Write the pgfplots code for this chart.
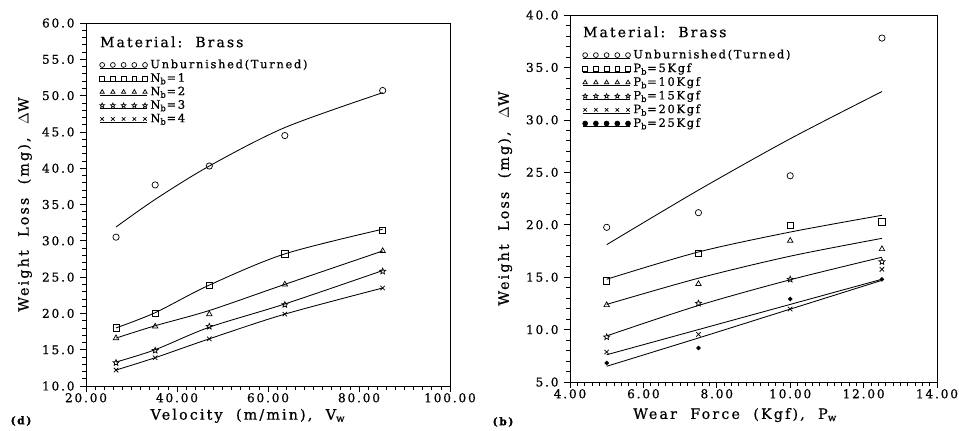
\documentclass[border=0pt]{standalone}
\usepackage{fontspec}
\setmainfont{DejaVu Serif}[LetterSpace=15, FakeBold=0.7]
\usepackage{pgfplots}
\pgfplotsset{compat=1.18}

% open five-pointed star
\pgfdeclareplotmark{ostar}{%
  \pgfpathmoveto{\pgfpointpolar{90}{\pgfplotmarksize}}%
  \pgfpathlineto{\pgfpointpolar{126}{0.45\pgfplotmarksize}}%
  \pgfpathlineto{\pgfpointpolar{162}{\pgfplotmarksize}}%
  \pgfpathlineto{\pgfpointpolar{198}{0.45\pgfplotmarksize}}%
  \pgfpathlineto{\pgfpointpolar{234}{\pgfplotmarksize}}%
  \pgfpathlineto{\pgfpointpolar{270}{0.45\pgfplotmarksize}}%
  \pgfpathlineto{\pgfpointpolar{306}{\pgfplotmarksize}}%
  \pgfpathlineto{\pgfpointpolar{342}{0.45\pgfplotmarksize}}%
  \pgfpathlineto{\pgfpointpolar{18}{\pgfplotmarksize}}%
  \pgfpathlineto{\pgfpointpolar{54}{0.45\pgfplotmarksize}}%
  \pgfpathclose\pgfusepathqstroke}

\pgfplotsset{
  legimg/.style={legend image code/.code={
    \draw[black, line width=0.5pt] (-1.5pt,-2.2pt) -- (31.5pt,-2.2pt);
    \draw[##1, mark size=1.7pt] plot coordinates {(0pt,0pt) (7.5pt,0pt) (15pt,0pt) (22.5pt,0pt) (30pt,0pt)};}},
  myaxis/.style={
    scale only axis,
    axis line style={black, line width=0.6pt},
    tick align=outside, xtick pos=bottom, ytick pos=left,
    major tick length=4.5pt, minor tick length=2.5pt,
    every tick/.style={black, line width=0.5pt},
    minor x tick num=9, minor y tick num=4,
    tick label style={font=\fontsize{8.5}{10}\selectfont},
    /pgf/number format/assume math mode=true,
    /pgf/number format/fixed, /pgf/number format/zerofill,
    xticklabel style={/pgf/number format/precision=2, yshift=3pt},
    yticklabel style={/pgf/number format/precision=1},
    label style={font=\fontsize{9.8}{11}\selectfont},
    legend style={draw=none, fill=none, font=\fontsize{8}{9}\selectfont,
      anchor=north west, nodes={inner ysep=1pt}},
    legend cell align=left,
  },
  fitline/.style={black, line width=0.6pt, smooth, mark=none, forget plot},
  pts/.style={black, only marks, mark size=2.2pt, line width=0.5pt, legimg},
}

\begin{document}
\begin{tikzpicture}
\useasboundingbox (0,0) rectangle (671.3pt,301pt);

% ---------- (d) velocity ----------
\begin{axis}[myaxis,
  at={(60.2pt,30.8pt)}, anchor=south west,
  width=254.8pt, height=254.1pt,
  xmin=20, xmax=100, ymin=10, ymax=60,
  xtick={20,40,60,80,100}, ytick={10,15,...,60},
  xlabel={Velocity\ \ (m/min),\ \ V\textsubscript{w}},
  ylabel={Weight\ \ Loss\ \ (mg),\ \ $\Delta$W},
  every axis x label/.style={at={(axis description cs:0.445,-0.082)}, anchor=center},
  every axis y label/.style={at={(axis description cs:-0.168,0.5)}, rotate=90, anchor=center},
  legend style={at={(axis description cs:0.025,0.912)}},
]
\addplot[pts, mark=o] coordinates {(26.6,30.5) (35.2,37.7) (47.1,40.3) (63.7,44.5) (85.2,50.7)};
\addlegendentry{Unburnished(Turned)}
\addplot[pts, mark=square] coordinates {(26.6,18.0) (35.2,20.0) (47.1,23.9) (63.7,28.2) (85.2,31.4)};
\addlegendentry{N\textsubscript{b}=1}
\addplot[pts, mark=triangle] coordinates {(26.6,16.6) (35.2,18.2) (47.1,19.9) (63.7,24.0) (85.2,28.6)};
\addlegendentry{N\textsubscript{b}=2}
\addplot[pts, mark=ostar] coordinates {(26.6,13.2) (35.2,14.9) (47.1,18.2) (63.7,21.2) (85.2,25.8)};
\addlegendentry{N\textsubscript{b}=3}
\addplot[pts, mark=x] coordinates {(26.6,12.2) (35.2,13.9) (47.1,16.5) (63.7,19.9) (85.2,23.5)};
\addlegendentry{N\textsubscript{b}=4}

\addplot[fitline] coordinates {(26.6,31.9) (35.2,35.7) (47.1,40.3) (63.7,45.6) (85.2,50.4)};
\addplot[fitline] coordinates {(26.6,18.0) (35.2,20.1) (47.1,23.9) (63.7,28.2) (85.2,31.6)};
\addplot[fitline] coordinates {(26.6,16.6) (35.2,18.3) (47.1,20.4) (63.7,24.0) (85.2,28.6)};
\addplot[fitline] coordinates {(26.6,13.3) (35.2,15.0) (47.1,18.1) (63.7,21.3) (85.2,25.9)};
\addplot[fitline] coordinates {(26.6,12.2) (35.2,13.9) (47.1,16.5) (63.7,19.9) (85.2,23.5)};

\node[anchor=west, font=\fontsize{9.8}{11}\selectfont] at (axis description cs:0.025,0.948) {Material:\ \ Brass};
\end{axis}

% ---------- (b) wear force ----------
\begin{axis}[myaxis,
  at={(399pt,33.6pt)}, anchor=south west,
  width=256.9pt, height=256.9pt,
  xmin=4, xmax=14, ymin=5, ymax=40,
  xtick={4,6,...,14}, ytick={5,10,...,40},
  xlabel={Wear\ \ Force\ \ (Kgf),\ \ P\textsubscript{w}},
  ylabel={Weight\ \ Loss\ \ (mg),\ \ $\Delta$W},
  every axis x label/.style={at={(axis description cs:0.45,-0.09)}, anchor=center},
  every axis y label/.style={at={(axis description cs:-0.177,0.5)}, rotate=90, anchor=center},
  legend style={at={(axis description cs:0.022,0.918)}},
]
\addplot[pts, mark=o] coordinates {(5,19.75) (7.5,21.15) (10,24.67) (12.5,37.8)};
\addlegendentry{Unburnished(Turned)}
\addplot[pts, mark=square] coordinates {(5,14.66) (7.5,17.27) (10,19.91) (12.5,20.26)};
\addlegendentry{P\textsubscript{b}=5Kgf}
\addplot[pts, mark=triangle] coordinates {(5,12.34) (7.5,14.35) (10,18.48) (12.5,17.68)};
\addlegendentry{P\textsubscript{b}=10Kgf}
\addplot[pts, mark=ostar] coordinates {(5,9.29) (7.5,12.5) (10,14.79) (12.5,16.47)};
\addlegendentry{P\textsubscript{b}=15Kgf}
\addplot[pts, mark=x] coordinates {(5,7.86) (7.5,9.55) (10,11.96) (12.5,15.75)};
\addlegendentry{P\textsubscript{b}=20Kgf}
\addplot[pts, mark=*, mark size=1.3pt] coordinates {(5,6.81) (7.5,8.24) (10,12.92) (12.5,14.79)};
\addlegendentry{P\textsubscript{b}=25Kgf}

\addplot[fitline] coordinates {(5,18.1) (7.5,23.3) (10,28.2) (12.5,32.7)};
\addplot[fitline] coordinates {(5,14.8) (7.5,17.4) (10,19.3) (12.5,20.9)};
\addplot[fitline] coordinates {(5,12.4) (7.5,14.9) (10,17.0) (12.5,18.7)};
\addplot[fitline] coordinates {(5,9.4) (7.5,12.3) (10,14.75) (12.5,16.9)};
\addplot[fitline] coordinates {(5,7.6) (7.5,10.0) (10,12.4) (12.5,14.8)};
\addplot[fitline] coordinates {(5,6.5) (7.5,9.2) (10,11.95) (12.5,14.7)};

\node[anchor=west, font=\fontsize{9.8}{11}\selectfont] at (axis description cs:0.022,0.954) {Material:\ \ Brass};
\end{axis}

\node[font=\bfseries\fontsize{7.5}{9}\selectfont] at (14.7pt,6.3pt) {(d)};
\node[font=\bfseries\fontsize{7.5}{9}\selectfont] at (352.1pt,5.6pt) {(b)};
\end{tikzpicture}
\end{document}
